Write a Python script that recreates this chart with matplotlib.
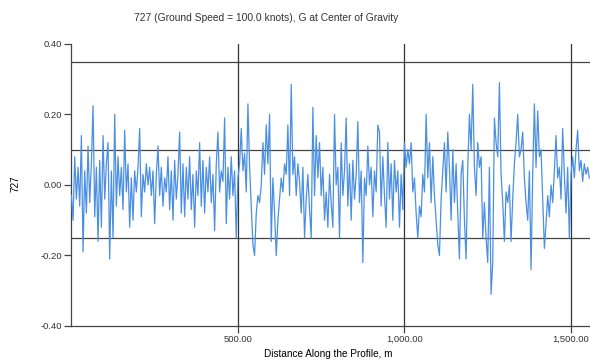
import numpy as np
import matplotlib.pyplot as plt

plt.rcParams.update({
    "font.family": ["Liberation Sans", "DejaVu Sans"],
    "font.size": 6.8,
    "text.color": "#333333",
    "xtick.color": "#444444",
    "ytick.color": "#444444",
    "xtick.labelcolor": "#333333",
    "ytick.labelcolor": "#333333",
})

# ── Data (5 m step) ──────────────────────────────────────────────────────────
STEP_M = 5.0
RESPONSE = [
    -0.03, -0.10, 0.08, -0.04, 0.05, -0.06, 0.14, -0.19, 0.04, -0.08,
    0.11, -0.05, 0.06, 0.225, -0.09, 0.05, -0.16, 0.07, -0.12, 0.14,
    -0.04, 0.06, 0.12, -0.21, 0.04, -0.15, 0.20, -0.06, 0.08, -0.03,
    0.05, -0.07, 0.155, -0.02, 0.06, -0.12, 0.02, -0.10, 0.04, -0.02,
    0.05, 0.16, -0.09, 0.03, -0.02, 0.06, 0.00, 0.05, -0.03, 0.04,
    -0.11, 0.03, 0.11, -0.03, 0.05, -0.06, 0.02, -0.02, 0.08, -0.07,
    0.04, -0.10, 0.07, -0.04, 0.03, 0.15, -0.08, 0.06, -0.09, 0.05,
    -0.04, 0.08, -0.07, 0.03, -0.12, 0.04, -0.03, 0.12, -0.06, 0.07,
    -0.08, 0.05, -0.02, 0.08, -0.05, 0.03, -0.13, 0.06, 0.15, -0.02,
    0.04, 0.01, 0.19, -0.11, 0.05, -0.04, 0.08, -0.03, 0.04, -0.15,
    0.02, 0.06, 0.16, 0.04, 0.09, -0.02, 0.23, 0.05, -0.06, -0.17,
    -0.20, -0.08, -0.03, -0.05, 0.00, 0.12, 0.03, 0.17, 0.06, 0.20,
    -0.16, 0.02, -0.08, -0.20, -0.10, -0.04, 0.02, -0.02, 0.06, 0.03,
    0.17, -0.03, 0.285, 0.03, 0.08, -0.03, 0.06, 0.01, -0.08, 0.05,
    -0.15, -0.04, 0.03, -0.07, -0.15, 0.22, -0.03, 0.14, 0.02, 0.12,
    -0.03, 0.05, -0.10, -0.02, -0.12, 0.03, -0.05, -0.12, 0.20, 0.00,
    0.05, -0.15, 0.12, -0.03, 0.04, 0.19, -0.06, 0.06, -0.10, 0.07,
    -0.04, 0.03, 0.18, -0.05, 0.04, -0.22, 0.02, -0.03, 0.11, 0.00,
    0.05, -0.09, 0.04, -0.02, 0.17, 0.15, -0.06, 0.08, -0.03, -0.12,
    0.12, -0.04, 0.06, -0.10, 0.07, -0.02, 0.04, -0.12, 0.03, -0.07,
    0.12, 0.05, 0.10, 0.06, 0.12, -0.02, 0.02, -0.08, -0.15, -0.06,
    -0.09, 0.03, -0.02, 0.20, 0.02, 0.12, -0.05, 0.08, -0.03, -0.10,
    -0.17, -0.20, -0.04, 0.04, 0.12, -0.02, 0.15, 0.05, -0.10, 0.10,
    -0.05, 0.06, -0.08, -0.21, 0.03, 0.07, -0.10, -0.21, 0.05, 0.20,
    0.10, 0.285, 0.05, -0.03, 0.12, 0.05, 0.08, -0.15, -0.05, -0.15,
    -0.22, 0.05, -0.31, -0.22, 0.19, 0.12, 0.08, 0.29, 0.03, -0.05,
    -0.16, -0.02, -0.05, 0.00, -0.16, -0.04, 0.06, 0.12, 0.20, 0.08,
    0.10, 0.15, 0.02, -0.05, -0.10, 0.04, -0.24, 0.03, 0.23, 0.05,
    0.21, 0.08, 0.10, -0.04, -0.18, -0.11, -0.03, -0.09, 0.00, -0.05,
    0.04, 0.14, 0.02, 0.05, -0.04, 0.16, 0.03, -0.08, 0.05, -0.15,
    0.03, 0.08, 0.02, 0.10, 0.155, 0.04, 0.07, 0.01, 0.06, 0.03,
    0.05, 0.02,
]
DISTANCE = np.arange(len(RESPONSE)) * STEP_M

LIMIT_LINES = [0.35, 0.10, -0.15]
X_TICKS = [500, 1000, 1500]
Y_TICKS = [-0.40, -0.20, 0.00, 0.20, 0.40]

# ── Figure ────────────────────────────────────────────────────────────────────
fig = plt.figure(figsize=(5.9, 3.63), dpi=100)
ax = fig.add_axes([0.121, 0.102, 0.879, 0.777])

ax.plot(DISTANCE, RESPONSE, color="#4A8FE2", lw=0.9, zorder=3)

for y in LIMIT_LINES:
    ax.axhline(y, color="#444444", lw=0.9, zorder=2)
for x in X_TICKS:
    ax.axvline(x, color="#333333", lw=0.9, zorder=2)

ax.set_xlim(0, 1557)
ax.set_ylim(-0.40, 0.40)
ax.set_xticks(X_TICKS)
ax.set_xticklabels([f"{x:,.2f}" for x in X_TICKS])
ax.set_yticks(Y_TICKS)
ax.set_yticklabels([f"{y:.2f}" for y in Y_TICKS])
ax.tick_params(length=5, width=0.9, pad=1.5)

for side in ("top", "right"):
    ax.spines[side].set_visible(False)
for side in ("left", "bottom"):
    ax.spines[side].set_color("#444444")
    ax.spines[side].set_linewidth(0.9)

ax.set_xlabel("Distance Along the Profile, m", fontsize=7.2)
ax.xaxis.set_label_coords(0.495, -0.083)
ax.set_ylabel("727", fontsize=7.2)
ax.yaxis.set_label_coords(-0.098, 0.503)

fig.text(0.451, 0.95, "727 (Ground Speed = 100.0 knots), G at Center of Gravity",
         ha="center", va="center", fontsize=7.4)

fig.savefig("out.png", dpi=100)
